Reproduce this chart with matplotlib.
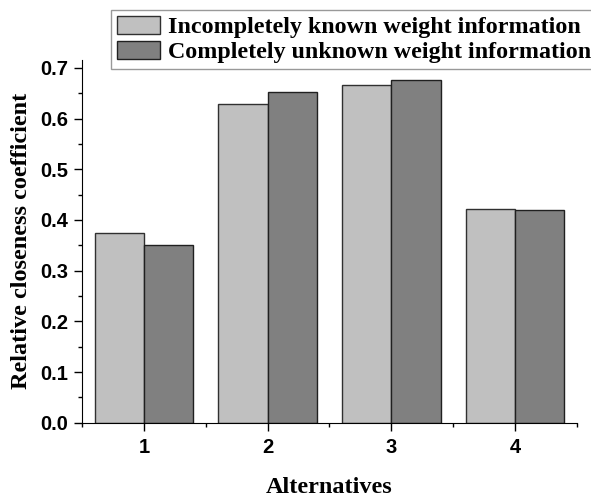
import numpy as np
import matplotlib.pyplot as plt
from matplotlib.ticker import MultipleLocator

alternatives = [1, 2, 3, 4]
incomplete_known = [0.375, 0.628, 0.667, 0.422]
complete_unknown = [0.350, 0.652, 0.676, 0.420]
series_names = ['Incompletely known weight information',
                'Completely unknown weight information']

serif = {'family': 'Liberation Serif', 'weight': 'bold'}

fig = plt.figure(figsize=(5.91, 4.98), dpi=100)
ax = fig.add_axes([0.139, 0.151, 0.837, 0.729])

x = np.array(alternatives)
w = 0.4
b1 = ax.bar(x - w/2, incomplete_known, w, color='#c0c0c0', edgecolor='#303030', linewidth=1.0, label=series_names[0])
b2 = ax.bar(x + w/2, complete_unknown, w, color='#808080', edgecolor='#202020', linewidth=1.0, label=series_names[1])

ax.set_xlim(0.5, 4.5)
ax.set_ylim(0, 0.716)
ax.set_xticks(alternatives)
ax.xaxis.set_minor_locator(MultipleLocator(0.5))
ax.yaxis.set_major_locator(MultipleLocator(0.1))
ax.yaxis.set_minor_locator(MultipleLocator(0.05))
ax.yaxis.set_major_formatter(plt.FormatStrFormatter('%.1f'))
ax.spines['top'].set_visible(False)
ax.spines['right'].set_visible(False)
ax.tick_params(which='major', direction='out', length=6, width=1, pad=4)
ax.tick_params(axis='x', which='major', pad=5)
ax.tick_params(which='minor', direction='out', length=3, width=1)
for lab in ax.get_xticklabels() + ax.get_yticklabels():
    lab.set_fontfamily('Liberation Sans')
    lab.set_fontweight('bold')
    lab.set_fontsize(14.5)

ax.set_xlabel('Alternatives', fontdict=serif, fontsize=17.5, labelpad=14)
ax.set_ylabel('Relative closeness coefficient', fontdict=serif, fontsize=17.5, labelpad=6)

leg = fig.legend(handles=[b1, b2], loc='upper left', bbox_to_anchor=(0.188, 0.98),
                 prop={'family': 'Liberation Serif', 'weight': 'bold', 'size': 17.3},
                 frameon=True, fancybox=False, edgecolor='#808080',
                 handlelength=1.8, handleheight=0.75, handletextpad=0.3,
                 borderpad=0.25, labelspacing=0.12, borderaxespad=0)
leg.get_frame().set_linewidth(1.0)

fig.savefig('out.png', dpi=100)
